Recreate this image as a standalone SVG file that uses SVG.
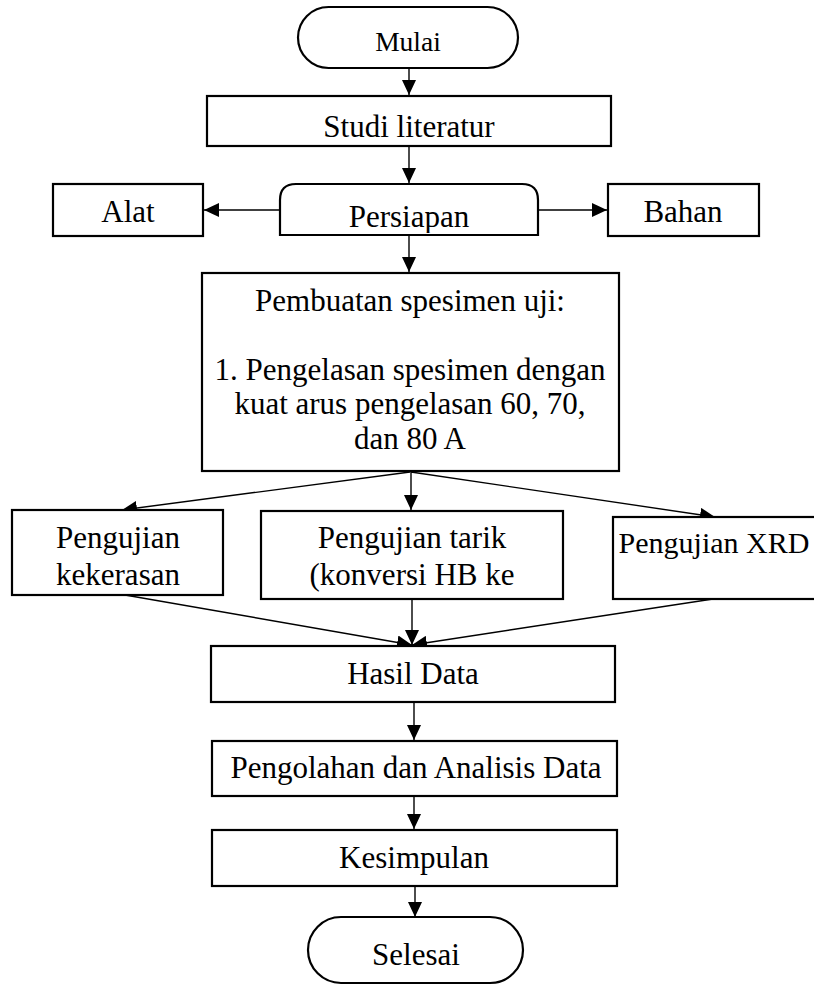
<svg xmlns="http://www.w3.org/2000/svg" width="814" height="985" viewBox="0 0 814 985">
<style>
.box{fill:#fff;stroke:#000;stroke-width:2.2}
.t{font-family:"Liberation Serif","Times New Roman",serif;font-size:31px;fill:#000;text-anchor:middle}
.c{stroke:#000;stroke-width:1.4;fill:none;marker-end:url(#ah)}
</style>
<defs>
<marker id="ah" markerUnits="userSpaceOnUse" markerWidth="16" markerHeight="14" refX="15" refY="7" orient="auto">
<path d="M0,0 L15,7 L0,14 Z" fill="#000"/>
</marker>
<clipPath id="pclip"><rect x="280" y="184" width="259" height="49"/></clipPath>
</defs>
<rect width="814" height="985" fill="#fff"/>
<g id="connectors">
<line class="c" x1="409" y1="68" x2="409" y2="95"/>
<line class="c" x1="409" y1="146" x2="409" y2="183"/>
<line class="c" x1="280" y1="210" x2="204" y2="210"/>
<line class="c" x1="538" y1="210" x2="607" y2="210"/>
<line class="c" x1="409" y1="235" x2="409" y2="272"/>
<line class="c" x1="410" y1="472" x2="122" y2="510"/>
<line class="c" x1="411" y1="472" x2="411" y2="510"/>
<line class="c" x1="411" y1="472" x2="715" y2="517"/>
<line class="c" x1="125" y1="595" x2="412" y2="645"/>
<line class="c" x1="412" y1="599" x2="412" y2="645"/>
<line class="c" x1="713" y1="599" x2="412" y2="645"/>
<line class="c" x1="414" y1="702" x2="414" y2="740"/>
<line class="c" x1="414" y1="796" x2="414" y2="829"/>
<line class="c" x1="415" y1="886" x2="415" y2="917"/>
</g>
<g id="mulai">
<rect class="box" x="298" y="7" width="220" height="61" rx="30.5"/>
<text class="t" x="408" y="51" style="font-size:27.5px">Mulai</text>
</g>
<g id="studi">
<rect class="box" x="207" y="96" width="404" height="50"/>
<text class="t" x="409" y="137">Studi literatur</text>
</g>
<g id="persiapan">
<path class="box" d="M280,235 L280,200 Q280,184 296,184 L522,184 Q538,184 538,200 L538,235 Z"/>
<text class="t" x="409" y="227" clip-path="url(#pclip)">Persiapan</text>
<line x1="280" y1="235" x2="538" y2="235" stroke="#000" stroke-width="2.2"/>
</g>
<g id="alat">
<rect class="box" x="53" y="184" width="150" height="52"/>
<text class="t" x="128" y="222">Alat</text>
</g>
<g id="bahan">
<rect class="box" x="608" y="184" width="151" height="52"/>
<text class="t" x="683" y="222">Bahan</text>
</g>
<g id="pembuatan">
<rect class="box" x="202" y="273" width="417" height="198"/>
<text class="t" x="410" y="311">Pembuatan spesimen uji:</text>
<text class="t" x="410" y="380">1. Pengelasan spesimen dengan</text>
<text class="t" x="410" y="414">kuat arus pengelasan 60, 70,</text>
<text class="t" x="410" y="449">dan 80 A</text>
</g>
<g id="kekerasan">
<rect class="box" x="12" y="510" width="211" height="85"/>
<text class="t" x="118" y="548">Pengujian</text>
<text class="t" x="118" y="585">kekerasan</text>
</g>
<g id="tarik">
<rect class="box" x="261" y="511" width="302" height="88"/>
<text class="t" x="412" y="548">Pengujian tarik</text>
<text class="t" x="412" y="585">(konversi HB ke</text>
</g>
<g id="xrd">
<rect class="box" x="613" y="517" width="210" height="82"/>
<text class="t" x="714" y="553" style="font-size:30px">Pengujian XRD</text>
</g>
<g id="hasil">
<rect class="box" x="211" y="646" width="404" height="56"/>
<text class="t" x="413" y="684">Hasil Data</text>
</g>
<g id="pengolahan">
<rect class="box" x="212" y="741" width="405" height="55"/>
<text class="t" x="416" y="778">Pengolahan dan Analisis Data</text>
</g>
<g id="kesimpulan">
<rect class="box" x="212" y="830" width="405" height="56"/>
<text class="t" x="414" y="868">Kesimpulan</text>
</g>
<g id="selesai">
<rect class="box" x="308" y="917" width="215" height="66" rx="33"/>
<text class="t" x="416" y="965">Selesai</text>
</g>
</svg>
